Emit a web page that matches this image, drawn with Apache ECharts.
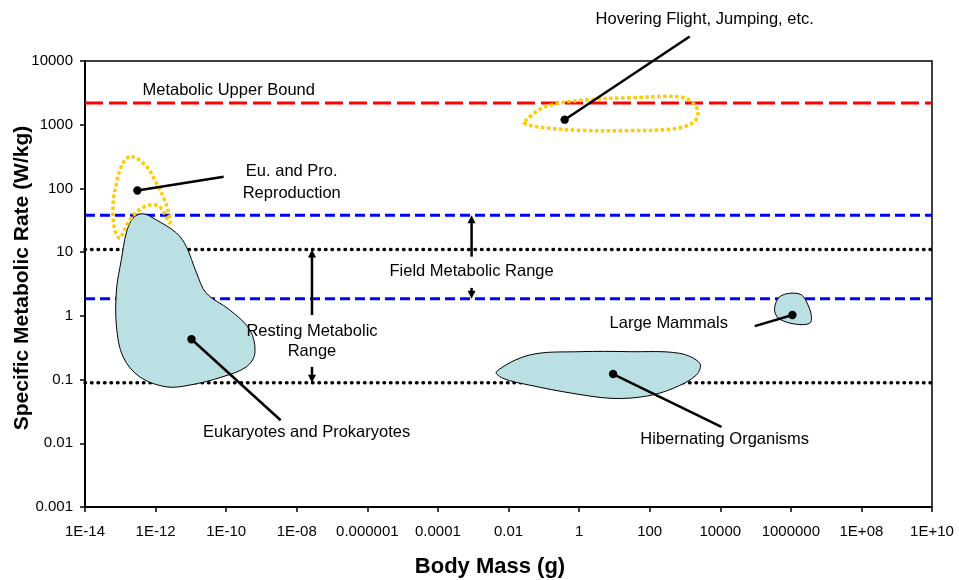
<!DOCTYPE html>
<html>
<head>
<meta charset="utf-8">
<script src="https://cdn.jsdelivr.net/npm/echarts@6/dist/echarts.min.js"></script>
<style>
  html, body { margin: 0; padding: 0; background: #fff; }
  #chart { width: 959px; height: 580px; }
</style>
</head>
<body>
<div id="chart"></div>
<script>
// Tick labels, one per tick (x every 2 decades, y every decade)
const xTickLabels = ['1E-14', '1E-12', '1E-10', '1E-08', '0.000001', '0.0001', '0.01', '1', '100', '10000', '1000000', '1E+08', '1E+10'];
const yTickLabels = ['0.001', '0.01', '0.1', '1', '10', '100', '1000', '10000'];

// Reference levels of specific metabolic rate (W/kg)
const upperBoundRate = 2200;
const fieldRange = [1.85, 38];     // [low, high]
const restingRange = [0.089, 11];  // [low, high]

// Region outlines as [body mass (g), specific metabolic rate (W/kg)]
const eukProOutline = [
  [4.4e-13, 40], [1.05e-12, 32], [3.9e-12, 20], [7.4e-12, 12.3], [1.45e-11, 4.7],
  [2.75e-11, 2.26], [1.26e-10, 1.24], [4.7e-10, 0.60], [6.5e-10, 0.258], [3.7e-10, 0.158],
  [8.1e-11, 0.111], [9.3e-12, 0.082], [2.0e-12, 0.077], [3.5e-13, 0.111], [1.2e-13, 0.228],
  [7.8e-14, 0.676], [7.8e-14, 2.55], [1.07e-13, 7.6], [1.48e-13, 20], [2.3e-13, 34.3]
];
const reproOutline = [
  [2.07e-13, 318], [5.5e-13, 222], [1.05e-12, 122], [1.8e-12, 66], [2.5e-12, 36],
  [2.5e-12, 28.9], [1.3e-12, 52], [6.8e-13, 55], [3.5e-13, 46], [1.85e-13, 32],
  [1.2e-13, 20], [9.6e-14, 16.6], [6.95e-14, 22.4], [6.2e-14, 52], [7.8e-14, 122], [1.2e-13, 251]
];
const hoverOutline = [
  [0.0288, 1130], [0.119, 1946], [2.0, 2480], [27, 2640], [711, 2740], [1690, 2200],
  [2350, 1535], [1690, 1070], [460, 860], [27, 808], [1.04, 817], [0.119, 891], [0.032, 1004]
];
const hibernOutline = [
  [0.00455, 0.133], [0.0399, 0.243], [1.04, 0.274], [27, 0.274], [711, 0.258], [2620, 0.18],
  [2110, 0.118], [460, 0.0728], [81, 0.055], [9.2, 0.0506], [0.67, 0.0607], [0.0399, 0.0818], [0.0070, 0.1045]
];
const mammalOutline = [
  [931000, 2.26], [2.0e6, 2.13], [3.07e6, 1.48], [3.84e6, 0.97], [3.44e6, 0.766],
  [1.44e6, 0.738], [485000, 0.885], [350000, 1.16], [373000, 1.58], [485000, 2.0]
];

// Callouts: marker point, leader end and label anchor (mass g, rate W/kg)
const calloutNames = ['Eukaryotes and Prokaryotes', 'Eu. and Pro.\nReproduction', 'Hovering Flight, Jumping, etc.', 'Hibernating Organisms', 'Large Mammals'];
const calloutDots = [[1.04e-11, 0.43], [3.05e-13, 93], [0.39, 1200], [9.2, 0.122], [1.11e6, 1.03]];
const calloutEnds = [[3.5e-9, 0.023], [8.5e-11, 153], [1365, 24300], [10800, 0.0181], [94800, 0.69]];
const calloutLabels = [[1.9e-8, 0.015], [7.2e-9, 123], [3630, 44900], [13400, 0.0116], [347, 0.77]];

// Range arrows: label, mass position, label rate, arrow tail rates [up, down]
const rangeNames = ['Field Metabolic Range', 'Resting Metabolic\nRange'];
const rangeMass = [9e-4, 2.7e-8];
const rangeLabelRate = [4.9, 0.39];
const rangeTails = [[8.5, 2.75], [1.03, 0.158]];

const upperBoundLabel = ['Metabolic Upper Bound', 1.18e-10, 3440];

const FONT = '"Liberation Sans", Arial, Helvetica, sans-serif';
const MIN_X = 1e-14, MAX_X = 1e10;

function levelSeries(value, color, width, dash, cap) {
  return {
    type: 'line', silent: true, symbol: 'none', z: 1, animation: false,
    data: [[MIN_X, value], [MAX_X, value]],
    lineStyle: { color: color, width: width, type: dash, cap: cap || 'butt' }
  };
}

function regionSeries(points, style) {
  return {
    type: 'custom', coordinateSystem: 'cartesian2d', silent: true, clip: false, z: 3, animation: false,
    data: [points[0]],
    renderItem: function (params, api) {
      return {
        type: 'polygon',
        shape: { points: points.map(function (p) { return api.coord(p); }), smooth: 0.35 },
        style: style
      };
    }
  };
}

function arrowHead(tip, dir) {
  // dir: -1 pointing up, +1 pointing down
  const len = 8, half = 4;
  return {
    type: 'polygon',
    shape: { points: [[tip[0], tip[1]], [tip[0] - half, tip[1] - dir * len], [tip[0] + half, tip[1] - dir * len]] },
    style: { fill: '#000' }
  };
}

const chart = echarts.init(document.getElementById('chart'), null, { renderer: 'canvas' });

const yellowStyle = { fill: 'none', stroke: '#FFCC00', lineWidth: 3.5, lineDash: [3.5, 2.5] };
const blobStyle = { fill: '#BBE0E3', stroke: '#000', lineWidth: 1 };

const option = {
  backgroundColor: '#fff',
  animation: false,
  textStyle: { fontFamily: FONT },
  grid: {
    left: 85, right: 27, top: 61, bottom: 73,
    outerBoundsMode: 'none', containLabel: false,
    show: true, borderColor: '#000', borderWidth: 1.5
  },
  xAxis: {
    type: 'log', logBase: 10, min: MIN_X, max: MAX_X, interval: 2,
    name: 'Body Mass (g)', nameLocation: 'middle', nameGap: 49, nameMoveOverlap: false,
    nameTextStyle: { fontFamily: FONT, fontSize: 22, fontWeight: 'bold', color: '#000', padding: [0, 37, 0, 0] },
    axisLine: { show: true, onZero: false, lineStyle: { color: '#000', width: 2 } },
    axisTick: { show: true, inside: false, length: 5, lineStyle: { color: '#000', width: 1.5 } },
    minorTick: { show: false },
    splitLine: { show: false },
    axisLabel: {
      color: '#000', fontSize: 15, fontFamily: FONT, margin: 17,
      formatter: function (v) { return xTickLabels[Math.round((Math.log10(v) + 14) / 2)]; }
    }
  },
  yAxis: {
    type: 'log', logBase: 10, min: 0.001, max: 10000, interval: 1,
    name: 'Specific Metabolic Rate (W/kg)', nameLocation: 'middle', nameGap: 52, nameMoveOverlap: false,
    nameTextStyle: { fontFamily: FONT, fontSize: 21, fontWeight: 'bold', color: '#000', padding: [0, 0, 0, 12] },
    axisLine: { show: true, onZero: false, lineStyle: { color: '#000', width: 2 } },
    axisTick: { show: true, inside: false, length: 5, lineStyle: { color: '#000', width: 1.5 } },
    minorTick: { show: false },
    splitLine: { show: false },
    axisLabel: {
      color: '#000', fontSize: 15, fontFamily: FONT, margin: 12,
      formatter: function (v) { return yTickLabels[Math.round(Math.log10(v)) + 3]; }
    }
  },
  series: [
    levelSeries(upperBoundRate, '#FF0000', 3, [18, 6]),
    levelSeries(fieldRange[1], '#0000FF', 3, [10, 5]),
    levelSeries(fieldRange[0], '#0000FF', 3, [10, 5]),
    levelSeries(restingRange[1], '#000000', 3.5, [0.5, 6], 'round'),
    levelSeries(restingRange[0], '#000000', 3.5, [0.5, 6], 'round'),

    regionSeries(eukProOutline, blobStyle),
    regionSeries(hibernOutline, blobStyle),
    regionSeries(mammalOutline, blobStyle),
    regionSeries(reproOutline, yellowStyle),
    regionSeries(hoverOutline, yellowStyle),

    {
      // callout dots, leader lines and labels
      type: 'custom', coordinateSystem: 'cartesian2d', silent: true, clip: false, z: 5, animation: false,
      data: calloutDots,
      renderItem: function (params, api) {
        const i = params.dataIndex;
        const dot = api.coord(calloutDots[i]);
        const end = api.coord(calloutEnds[i]);
        const lab = api.coord(calloutLabels[i]);
        return {
          type: 'group',
          children: [
            { type: 'line', shape: { x1: dot[0], y1: dot[1], x2: end[0], y2: end[1] }, style: { stroke: '#000', lineWidth: 2.5 } },
            { type: 'circle', shape: { cx: dot[0], cy: dot[1], r: 4.2 }, style: { fill: '#000' } },
            { type: 'text', style: { text: calloutNames[i], x: lab[0], y: lab[1], fill: '#000', font: '16.5px ' + FONT, align: 'center', verticalAlign: 'middle', lineHeight: 22 } }
          ]
        };
      }
    },
    {
      // field and resting range arrows
      type: 'custom', coordinateSystem: 'cartesian2d', silent: true, clip: false, z: 5, animation: false,
      data: rangeMass.map(function (m, i) { return [m, rangeLabelRate[i]]; }),
      renderItem: function (params, api) {
        const i = params.dataIndex;
        const bounds = i === 0 ? fieldRange : restingRange;
        const lab = api.coord([rangeMass[i], rangeLabelRate[i]]);
        const upTail = api.coord([rangeMass[i], rangeTails[i][0]]);
        const upTip = api.coord([rangeMass[i], bounds[1]]);
        const dnTail = api.coord([rangeMass[i], rangeTails[i][1]]);
        const dnTip = api.coord([rangeMass[i], bounds[0]]);
        return {
          type: 'group',
          children: [
            { type: 'line', shape: { x1: upTail[0], y1: upTail[1], x2: upTip[0], y2: upTip[1] + 6 }, style: { stroke: '#000', lineWidth: 2.5 } },
            arrowHead(upTip, -1),
            { type: 'line', shape: { x1: dnTail[0], y1: dnTail[1], x2: dnTip[0], y2: dnTip[1] - 6 }, style: { stroke: '#000', lineWidth: 2.5 } },
            arrowHead(dnTip, 1),
            { type: 'text', style: { text: rangeNames[i], x: lab[0], y: lab[1], fill: '#000', font: '16.5px ' + FONT, align: 'center', verticalAlign: 'middle', lineHeight: 20 } }
          ]
        };
      }
    },
    {
      // upper bound label
      type: 'custom', coordinateSystem: 'cartesian2d', silent: true, clip: false, z: 5, animation: false,
      data: [[upperBoundLabel[1], upperBoundLabel[2]]],
      renderItem: function (params, api) {
        const p = api.coord([upperBoundLabel[1], upperBoundLabel[2]]);
        return { type: 'text', style: { text: upperBoundLabel[0], x: p[0], y: p[1], fill: '#000', font: '16.5px ' + FONT, align: 'center', verticalAlign: 'middle' } };
      }
    }
  ]
};

chart.setOption(option);
</script>
</body>
</html>
